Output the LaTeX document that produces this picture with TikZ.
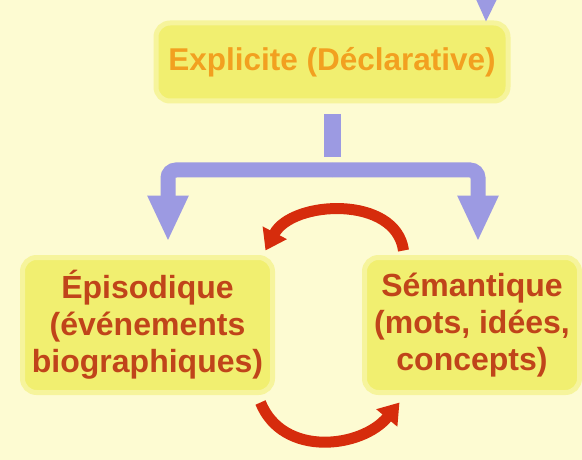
\documentclass[tikz,border=0pt]{standalone}
\usepackage{fontspec}
\setmainfont{Liberation Sans}
\usepackage{xcolor}
\usepackage{tikz}
\usetikzlibrary{arrows.meta, positioning}

\definecolor{bgcream}{HTML}{FDFBD2}
\definecolor{boxyellow}{HTML}{F1EF70}
\definecolor{toptext}{HTML}{F2A020}
\definecolor{lowtext}{HTML}{C0441A}
\definecolor{forkblue}{HTML}{9C9AE2}
\definecolor{arcred}{HTML}{D62C0C}

\begin{document}
\begin{tikzpicture}[
    x=1pt, y=-1pt,
    box/.style={rectangle, rounded corners=14pt, inner sep=0pt, outer sep=0pt, align=center, fill=boxyellow, draw=boxyellow!55!bgcream, line width=5pt, font=\fontsize{32}{37}\selectfont\bfseries},
    bluearrow/.style={-{Triangle[width=38pt, length=46pt]}, line width=15pt, draw=forkblue},
    redarrow/.style={-{Triangle[width=26pt, length=20pt]}, line width=11pt, draw=arcred}
]

% Canvas
\useasboundingbox (0,0) rectangle (582,460);
\fill[bgcream] (0,0) rectangle (582,460);

% Nodes
\node[box, minimum width=352pt, minimum height=78pt, text=toptext, font=\fontsize{31.5}{37}\selectfont\bfseries] (explicit) at (332,62) {Explicite (Déclarative)};
\node[box, minimum width=250pt, minimum height=135pt, text=lowtext] (episodic) at (147.5,325) {Épisodique\\(événements\\biographiques)};
\node[box, minimum width=215pt, minimum height=135pt, text=lowtext, right=92pt of episodic] (semantic) {Sémantique\\(mots, idées,\\concepts)};

% Arrows
\coordinate (incoming) at (487,-40);
\coordinate (fork) at (explicit.south |- 0,170);
\draw[bluearrow] (incoming) -- ([xshift=-22pt]explicit.north east);
\draw[forkblue, line width=17pt, shorten <=13pt, shorten >=13pt] (explicit.south) -- (fork);
\draw[bluearrow, rounded corners=8pt, shorten >=16pt] (fork) -| ([xshift=20.5pt]episodic.north);
\draw[bluearrow, rounded corners=8pt, shorten >=16pt] (fork) -| ([xshift=6pt]semantic.north);

% Cycle
\draw[redarrow] ([xshift=39pt, yshift=7pt]semantic.north west) .. controls (396,195) and (292,200) .. ([xshift=-7pt, yshift=7pt]episodic.north east);
\draw[redarrow] ([xshift=-12pt, yshift=-10pt]episodic.south east) .. controls (283,458) and (362,448) .. ([xshift=35pt, yshift=-10pt]semantic.south west);

\end{tikzpicture}
\end{document}
